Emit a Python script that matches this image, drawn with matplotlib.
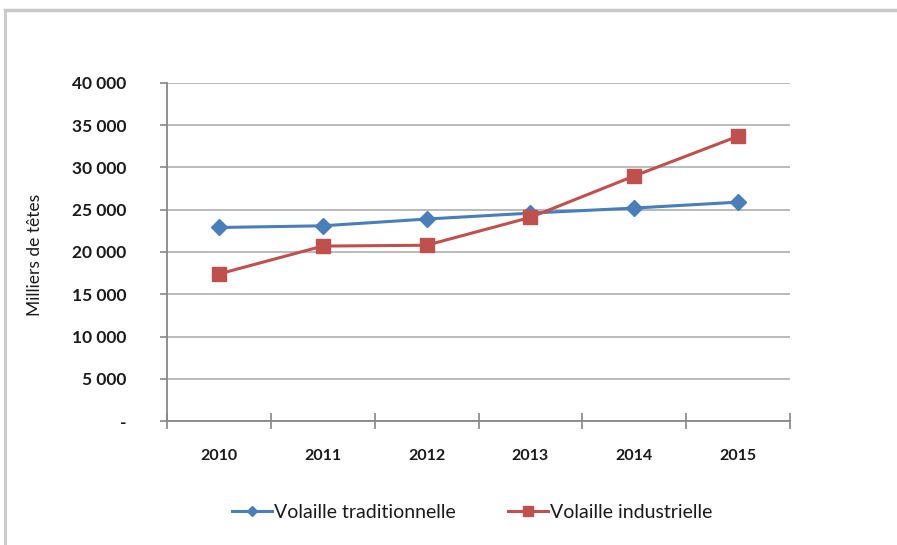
import matplotlib
matplotlib.use("Agg")
import matplotlib.pyplot as plt
from matplotlib.lines import Line2D
from matplotlib.ticker import FixedLocator, FuncFormatter

years = ["2010", "2011", "2012", "2013", "2014", "2015"]
traditionnelle = [22900, 23100, 23900, 24600, 25200, 25900]
industrielle = [17400, 20700, 20800, 24100, 29000, 33700]
y_ticks = [0, 5000, 10000, 15000, 20000, 25000, 30000, 35000, 40000]
label_trad = "Volaille traditionnelle"
label_ind = "Volaille industrielle"
y_label = "Milliers de têtes"

plt.rcParams['font.family'] = ['Lato', 'DejaVu Sans']

W, H = 897, 545
fig = plt.figure(figsize=(W / 100, H / 100), dpi=100)
fig.patch.set_facecolor("white")

# outer chart frame (top and left edges visible)
fig.add_artist(Line2D([5 / W, 5 / W], [0, 1 - 10 / H], transform=fig.transFigure,
                      color="#c8c8c8", lw=2))
fig.add_artist(Line2D([5 / W, 1], [1 - 10 / H, 1 - 10 / H], transform=fig.transFigure,
                      color="#c8c8c8", lw=2.5))

ax = fig.add_axes([167 / W, 1 - 421 / H, (790 - 167) / W, (421 - 83) / H])
x = list(range(len(years)))
blue = "#4A7EBB"
red = "#C0504D"
ax.plot(x, traditionnelle, color=blue, lw=2.2, marker="D", ms=8, mfc=blue, mec=blue,
        label=label_trad, zorder=3)
ax.plot(x, industrielle, color=red, lw=2.2, marker="s", ms=10, mfc=red, mec=red,
        label=label_ind, zorder=4)

ax.set_xlim(-0.5, len(years) - 0.5)
ax.set_ylim(0, 40000)
ax.yaxis.set_major_locator(FixedLocator(y_ticks))
ax.yaxis.set_major_formatter(FuncFormatter(
    lambda v, p: "-" if v == 0 else f"{int(v):,}".replace(",", " ")))
ax.grid(axis="y", color="#b4b4b4", lw=1.3)
ax.set_axisbelow(True)

ax.set_xticks(x)
ax.set_xticklabels(years)
ax.xaxis.set_minor_locator(FixedLocator([i - 0.5 for i in range(len(years) + 1)]))
ax.tick_params(axis="x", which="major", length=0, pad=20, labelsize=11.5)
ax.tick_params(axis="x", which="minor", length=12, direction="inout", color="#888888", width=1.2)
ax.tick_params(axis="y", which="major", length=5, direction="out", color="#888888", width=1.2,
               pad=24, labelsize=12.5)
for lbl in ax.get_xticklabels() + ax.get_yticklabels():
    lbl.set_fontweight("bold")
    lbl.set_color("#1a1a1a")

for s in ["top", "right"]:
    ax.spines[s].set_visible(False)
for s in ["left", "bottom"]:
    ax.spines[s].set_color("#888888")
    ax.spines[s].set_linewidth(1.3)

fig.text(35 / W, 1 - 255 / H, y_label, rotation=90, ha="center", va="center",
         fontsize=12.5, color="#1a1a1a")

leg = fig.legend(loc="center", bbox_to_anchor=(472 / W, 1 - 512 / H), ncol=2,
                 frameon=False, fontsize=14, handlelength=2.06, handletextpad=0.1,
                 columnspacing=2.7, markerscale=0.7)
for t in leg.get_texts():
    t.set_color("#1a1a1a")

fig.savefig("out.png", dpi=100, facecolor="white")
